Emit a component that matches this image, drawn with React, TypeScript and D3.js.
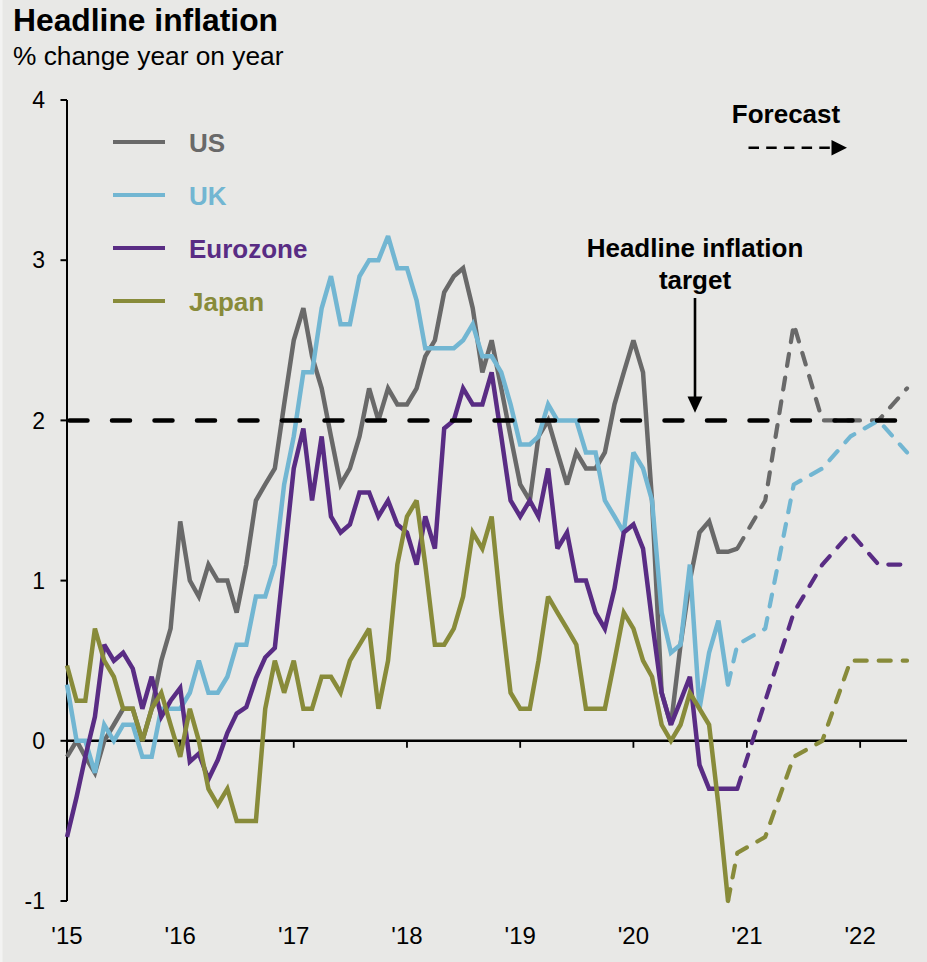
import React from 'react';
import * as d3 from 'd3';

const W = 927;
const H = 962;

const yearLabels = ["'15", "'16", "'17", "'18", "'19", "'20", "'21", "'22"];
const yTicks = [-1, 0, 1, 2, 3, 4];

// Monthly actuals from Jan 2015
const usActual = [
  -0.1, 0.0, -0.1, -0.2, 0.0, 0.1, 0.2, 0.2, 0.0, 0.2, 0.5, 0.7,
  1.37, 1.0, 0.9, 1.1, 1.0, 1.0, 0.8, 1.1, 1.5, 1.6, 1.7, 2.1,
  2.5, 2.7, 2.4, 2.2, 1.9, 1.6, 1.7, 1.9, 2.2, 2.0, 2.2, 2.1,
  2.1, 2.2, 2.4, 2.5, 2.8, 2.9, 2.95, 2.7, 2.3, 2.5, 2.2, 1.9,
  1.6, 1.5, 1.9, 2.0, 1.8, 1.6, 1.8, 1.7, 1.7, 1.8, 2.1, 2.3,
  2.5, 2.3, 1.5, 0.3, 0.1, 0.6, 1.0, 1.3, 1.37, 1.18, 1.18, 1.2,
];
const ukActual = [
  0.35, 0.0, 0.0, -0.2, 0.1, 0.0, 0.1, 0.1, -0.1, -0.1, 0.2, 0.2,
  0.2, 0.3, 0.5, 0.3, 0.3, 0.4, 0.6, 0.6, 0.9, 0.9, 1.1, 1.6,
  1.9, 2.3, 2.3, 2.7, 2.9, 2.6, 2.6, 2.9, 3.0, 3.0, 3.15, 2.95,
  2.95, 2.75, 2.45, 2.45, 2.45, 2.45, 2.5, 2.6, 2.4, 2.4, 2.3, 2.1,
  1.85, 1.85, 1.9, 2.1, 2.0, 2.0, 2.0, 1.8, 1.8, 1.5, 1.4, 1.3,
  1.8, 1.7, 1.5, 0.8, 0.55, 0.6, 1.1, 0.2, 0.55, 0.75, 0.35,
];
const ezActual = [
  -0.6, -0.35, -0.1, 0.15, 0.6, 0.5, 0.55, 0.45, 0.2, 0.4, 0.15, 0.25,
  0.33, -0.13, -0.08, -0.24, -0.12, 0.05, 0.17, 0.21, 0.39, 0.52, 0.58, 1.13,
  1.7, 1.95, 1.5, 1.9, 1.4, 1.3, 1.35, 1.55, 1.55, 1.4, 1.5, 1.35,
  1.3, 1.1, 1.4, 1.2, 1.95, 2.0, 2.2, 2.1, 2.1, 2.3, 1.9, 1.5,
  1.4, 1.5, 1.4, 1.7, 1.2, 1.3, 1.0, 1.0, 0.8, 0.7, 0.95, 1.3,
  1.35, 1.2, 0.75, 0.3, 0.1, 0.25, 0.4, -0.15, -0.3, -0.3, -0.3, -0.3,
];
const jpActual = [
  0.47, 0.25, 0.25, 0.7, 0.5, 0.4, 0.2, 0.2, 0.0, 0.2, 0.3, 0.1,
  -0.1, 0.2, 0.0, -0.3, -0.4, -0.3, -0.5, -0.5, -0.5, 0.2, 0.5, 0.3,
  0.5, 0.2, 0.2, 0.4, 0.4, 0.3, 0.5, 0.6, 0.7, 0.2, 0.5, 1.1,
  1.4, 1.5, 1.1, 0.6, 0.6, 0.7, 0.9, 1.3, 1.2, 1.4, 0.8, 0.3,
  0.2, 0.2, 0.5, 0.9, 0.8, 0.7, 0.6, 0.2, 0.2, 0.2, 0.5, 0.8,
  0.7, 0.5, 0.4, 0.1, 0.0, 0.1, 0.3, 0.2, 0.1, -0.4, -1.0,
];

// Quarterly forecasts
const forecastMonths = ['2020-12', '2021-03', '2021-06', '2021-09', '2021-12', '2022-03', '2022-06'];
const usForecast = [1.2, 1.5, 2.6, 2.0, 2.0, 2.0, 2.2];
const ukForecast = [0.6, 0.7, 1.6, 1.7, 1.9, 2.0, 1.8];
const ezForecast = [-0.3, 0.25, 0.8, 1.1, 1.3, 1.1, 1.1];
const jpForecast = [-0.7, -0.6, -0.1, 0.0, 0.5, 0.5, 0.5];

const seriesNames = ['US', 'UK', 'Eurozone', 'Japan'];
const seriesColors = ['#696969', '#72b6d2', '#592c84', '#888b3a'];
const actuals = [usActual, ukActual, ezActual, jpActual];
const forecasts = [usForecast, ukForecast, ezForecast, jpForecast];

const targetValue = 2;

const FONT = '"Liberation Sans", Arial, Helvetica, sans-serif';

function parseMonth(s: string): Date {
  const [yy, mm] = s.split('-').map(Number);
  return new Date(yy, mm - 1, 1);
}

export default function App() {
  const x = d3.scaleTime()
    .domain([new Date(2015, 0, 1), new Date(2022, 5, 1)])
    .range([67, 907]);
  const y = d3.scaleLinear().domain([-1, 4]).range([901, 100]);

  type P = [Date, number];
  const line = d3.line<P>().x((d) => x(d[0])).y((d) => y(d[1]));

  const actualPts: P[][] = actuals.map((arr) => arr.map((v, i) => [new Date(2015, i, 1), v] as P));
  const forecastPts: P[][] = forecasts.map((arr, k) => {
    const last = actualPts[k][actualPts[k].length - 1];
    const pts: P[] = forecastMonths.map((m, i) => [parseMonth(m), arr[i]] as P);
    const filtered = pts.filter((p) => p[0].getTime() > last[0].getTime());
    return [last, ...filtered];
  });

  const yearDates = yearLabels.map((_, i) => new Date(2015 + i, 0, 1));
  const x0 = x.range()[0];
  const x1 = x.range()[1];

  const legendY0 = 142;
  const legendStep = 53;

  return (
    <svg width={W} height={H} style={{ position: 'absolute', left: 0, top: 0, display: 'block' }}
      xmlns="http://www.w3.org/2000/svg">
      <rect x={0} y={0} width={W} height={H} fill="#e8e8e6" />
      <rect x={0} y={0} width={2.5} height={H} fill="#f3f3f2" />

      {/* Title */}
      <text x={13} y={31} fontFamily={FONT} fontWeight="bold" fontSize={31.8} fill="#000">Headline inflation</text>
      <text x={13} y={65} fontFamily={FONT} fontSize={26.3} fill="#000">% change year on year</text>

      {/* Y axis */}
      <line x1={x0} x2={x0} y1={y(4)} y2={y(-1)} stroke="#000" strokeWidth={2} />
      {yTicks.map((t) => (
        <g key={t}>
          <line x1={x0 - 6.5} x2={x0} y1={y(t)} y2={y(t)} stroke="#000" strokeWidth={2} />
          <text x={45} y={y(t)} dy="0.36em" textAnchor="end" fontFamily={FONT} fontSize={23} fill="#000">{t}</text>
        </g>
      ))}

      {/* X axis */}
      <line x1={x0} x2={x1} y1={y(0)} y2={y(0)} stroke="#000" strokeWidth={2.5} />
      {yearDates.map((d, i) => (
        <g key={i}>
          {i > 0 && <line x1={x(d)} x2={x(d)} y1={y(0)} y2={y(0) + 7} stroke="#000" strokeWidth={1.8} />}
          <text x={x(d)} y={944} textAnchor="middle" fontFamily={FONT} fontSize={24} fill="#000">{yearLabels[i]}</text>
        </g>
      ))}

      {/* Actual series */}
      {actualPts.map((pts, k) => (
        <path key={'a' + k} d={line(pts) || ''} fill="none" stroke={seriesColors[k]} strokeWidth={4.5}
          strokeLinejoin="miter" strokeMiterlimit={3} />
      ))}
      {/* Forecast series */}
      {forecastPts.map((pts, k) => (
        <path key={'f' + k} d={line(pts) || ''} fill="none" stroke={seriesColors[k]} strokeWidth={4.2}
          strokeDasharray="12,12" strokeLinecap="round" strokeLinejoin="round" />
      ))}

      {/* Target line */}
      <line x1={x0 + 2.5} x2={x1} y1={y(targetValue)} y2={y(targetValue)} stroke="#000" strokeWidth={4.5}
        strokeDasharray="18,24.5" strokeLinecap="round" />

      {/* Legend */}
      {seriesNames.map((n, k) => (
        <g key={n}>
          <line x1={113} x2={165} y1={legendY0 + k * legendStep} y2={legendY0 + k * legendStep}
            stroke={seriesColors[k]} strokeWidth={4.2} />
          <text x={189} y={legendY0 + k * legendStep + 9.5} fontFamily={FONT} fontWeight="bold" fontSize={26}
            fill={seriesColors[k]}>{n}</text>
        </g>
      ))}

      {/* Forecast annotation */}
      <text x={786} y={123} textAnchor="middle" fontFamily={FONT} fontWeight="bold" fontSize={26} fill="#000">Forecast</text>
      <line x1={748.5} x2={832} y1={147.7} y2={147.7} stroke="#000" strokeWidth={2.6} strokeDasharray="10.5,7.2" />
      <polygon points="831.5,140 847,147.7 831.5,155.4" fill="#000" />

      {/* Target annotation */}
      <text x={695} y={256.5} textAnchor="middle" fontFamily={FONT} fontWeight="bold" fontSize={26} fill="#000">Headline inflation</text>
      <text x={695} y={288.5} textAnchor="middle" fontFamily={FONT} fontWeight="bold" fontSize={26} fill="#000">target</text>
      <line x1={695} x2={695} y1={298} y2={398} stroke="#000" strokeWidth={2.6} />
      <polygon points="687.5,396.5 702.5,396.5 695,412.8" fill="#000" />
    </svg>
  );
}
